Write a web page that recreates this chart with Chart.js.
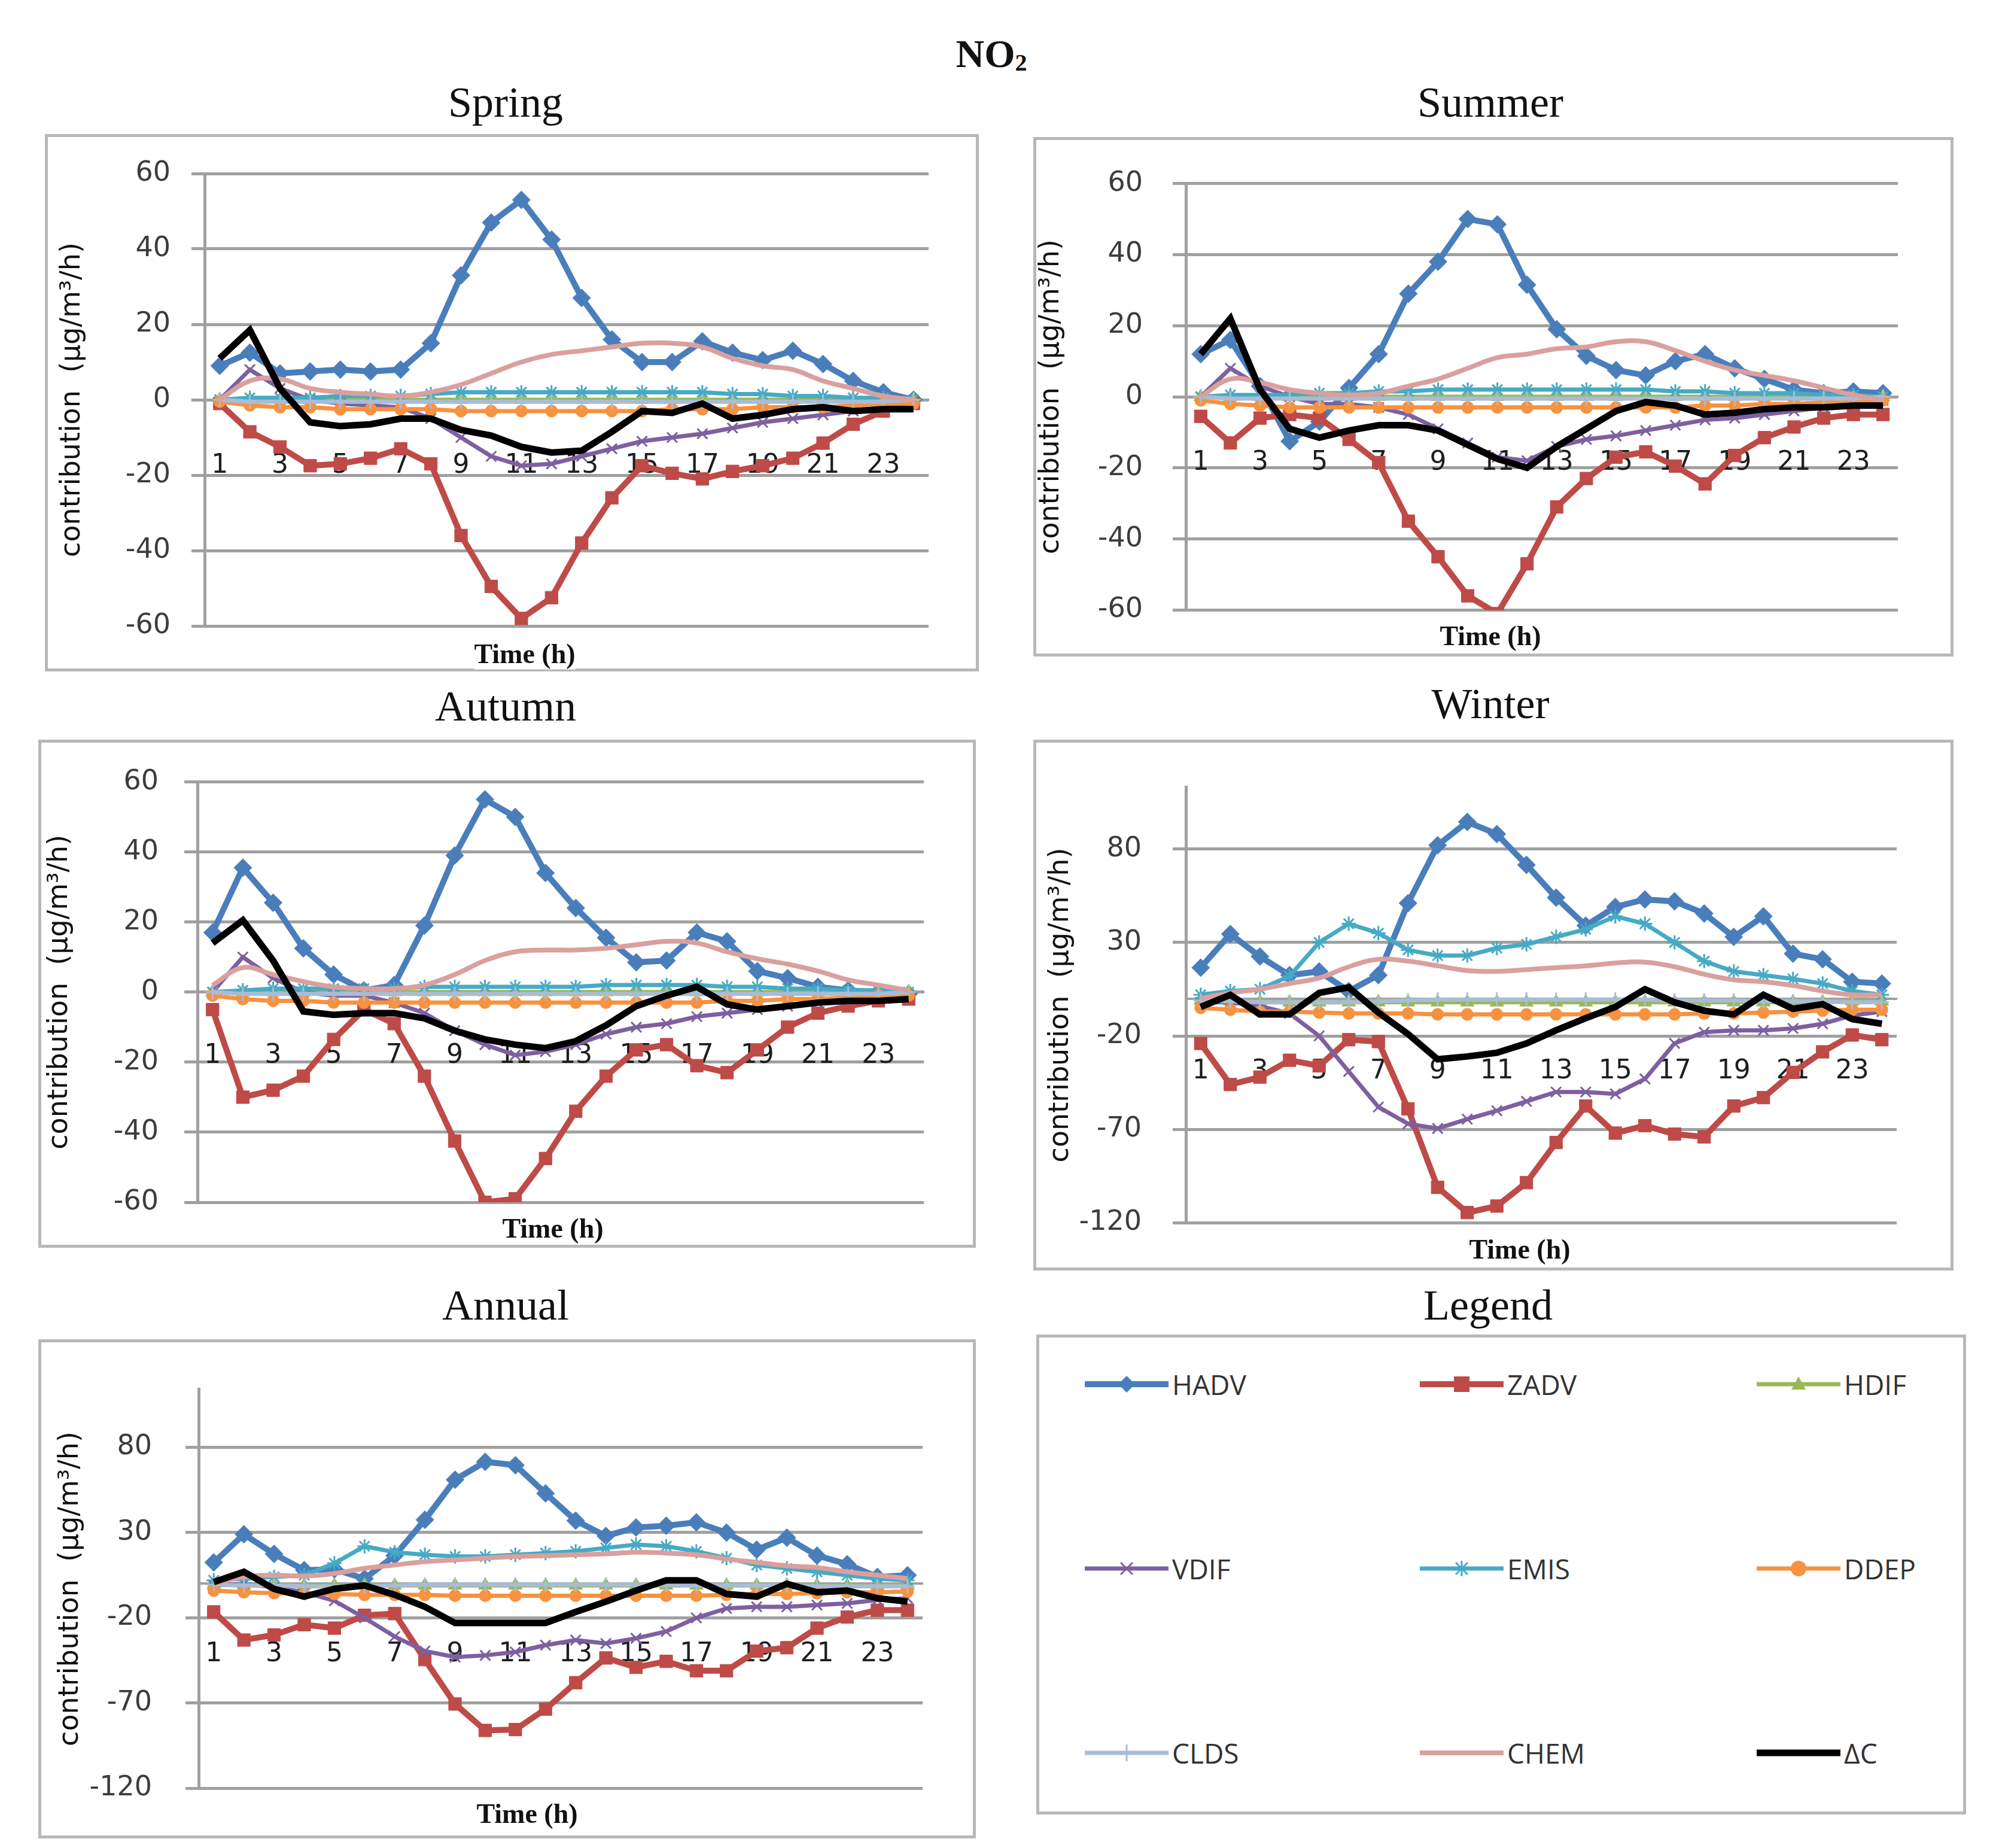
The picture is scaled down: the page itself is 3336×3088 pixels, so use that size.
<!DOCTYPE html>
<html>
<head>
<meta charset="utf-8">
<script src="https://cdn.jsdelivr.net/npm/chart.js@4.4.1/dist/chart.umd.min.js"></script>
<style>
  body { margin: 0; background: #fff; width: 3336px; height: 3088px; position: relative; overflow: hidden; }
  .frame { position: absolute; border: 5px solid #b8b8b8; box-sizing: border-box; background: #fff; }
  .wrap { position: absolute; }
  .ttl { position: absolute; transform: translate(-50%, -50%); white-space: nowrap;
         font-family: "Liberation Serif", "DejaVu Serif", serif; font-size: 72px; color: #111; }
  .main { font-weight: bold; font-size: 66px; }
  .main sub { font-size: 40px; vertical-align: -6px; }
  .time { position: absolute; transform: translate(-50%, -50%); white-space: nowrap; background: #fff;
          font-family: "Liberation Serif", "DejaVu Serif", serif; font-weight: bold; font-size: 46px; color: #111; }
  .leg { position: absolute; display: flex; align-items: center; transform: translateY(-50%);
         font-family: "Open Sans", "Liberation Sans", sans-serif; font-size: 46px; color: #333; }
  .leg svg { margin-right: 6px; }
</style>
</head>
<body>

<div class="ttl main" style="left:1657px; top:90px;">NO<sub>2</sub></div>

<div class="ttl" style="left:845px; top:171px;">Spring</div>
<div class="ttl" style="left:2491px; top:171px;">Summer</div>
<div class="ttl" style="left:845px; top:1180px;">Autumn</div>
<div class="ttl" style="left:2491px; top:1176px;">Winter</div>
<div class="ttl" style="left:845px; top:2181px;">Annual</div>
<div class="ttl" style="left:2487px; top:2181px;">Legend</div>

<div class="frame" style="left:75px; top:224px; width:1561px; height:898px;"></div>
<div class="frame" style="left:1727px; top:229px; width:1538px; height:868px;"></div>
<div class="frame" style="left:64px; top:1236px; width:1567px; height:849px;"></div>
<div class="frame" style="left:1727px; top:1236px; width:1538px; height:887px;"></div>
<div class="frame" style="left:64px; top:2238px; width:1567px; height:834px;"></div>
<div class="frame" style="left:1732px; top:2230px; width:1554px; height:802px;"></div>

<div class="wrap" style="left:75px; top:224px;"><canvas id="spring" width="1561" height="898"></canvas></div>
<div class="wrap" style="left:1727px; top:229px;"><canvas id="summer" width="1538" height="868"></canvas></div>
<div class="wrap" style="left:64px; top:1236px;"><canvas id="autumn" width="1567" height="849"></canvas></div>
<div class="wrap" style="left:1727px; top:1236px;"><canvas id="winter" width="1538" height="887"></canvas></div>
<div class="wrap" style="left:64px; top:2238px;"><canvas id="annual" width="1567" height="834"></canvas></div>

<div class="time" style="left:877px; top:1092px;">Time (h)</div>
<div class="time" style="left:2491px; top:1062px;">Time (h)</div>
<div class="time" style="left:924px; top:2052px;">Time (h)</div>
<div class="time" style="left:2540px; top:2087px;">Time (h)</div>
<div class="time" style="left:881px; top:3030px;">Time (h)</div>

<div id="legend"></div>

<script>
// ---------- Data ----------
const hours = [1, 2, 3, 4, 5, 6, 7, 8, 9, 10, 11, 12, 13, 14, 15, 16, 17, 18, 19, 20, 21, 22, 23, 24];
const seriesNames = ["HADV", "ZADV", "HDIF", "VDIF", "EMIS", "DDEP", "CLDS", "CHEM", "ΔC"];

const smallTicks = [-60, -40, -20, 0, 20, 40, 60];
const largeTicks = [-120, -70, -20, 30, 80];

// Spring
const springHADV = [9, 12.5, 7, 7.5, 8, 7.5, 8, 15, 33, 47, 53, 42.5, 27, 16, 10, 10, 15.5, 12.5, 10.5, 13, 9.5, 5, 2, 0];
const springZADV = [-1, -8.5, -12.5, -17.5, -17, -15.5, -13, -17, -36, -49.5, -58, -52.5, -38, -26, -17.5, -19.5, -21, -19, -17.5, -15.5, -11.5, -6.5, -3, -1];
const springHDIF = [0, 0, 0, 0, 0, 0, 0, 0, 0, 0, 0, 0, 0, 0, 0, 0, 0, 0, 0, 0, 0, 0, 0, 0];
const springVDIF = [0, 8, 3, 0, -1, -1.5, -2, -5, -10, -15, -17.5, -17, -15, -13, -11, -10, -9, -7.5, -6, -5, -4, -3, -2, -1];
const springEMIS = [0, 0.5, 0.5, 0.5, 1, 1, 1, 1.5, 2, 2, 2, 2, 2, 2, 2, 2, 2, 1.5, 1.5, 1, 1, 0.5, 0.5, 0];
const springDDEP = [-0.5, -1.5, -2, -2, -2.5, -2.5, -2.5, -2.5, -3, -3, -3, -3, -3, -3, -3, -2.5, -2.5, -2.5, -2, -2, -2, -1.5, -1, -1];
const springCLDS = [0, -0.5, -0.5, -0.5, -0.5, -0.5, -0.5, -0.5, -0.5, -0.5, -0.5, -0.5, -0.5, -0.5, -0.5, -0.5, -0.5, -0.5, -0.5, -0.5, -0.5, -0.5, -0.5, 0];
const springCHEM = [0, 5, 5.5, 3, 2, 1.5, 1, 2, 4, 7, 10, 12, 13, 14, 15, 15, 14, 11, 9, 8, 5, 3, 1, 0];
const springDC = [11, 18.5, 3, -6, -7, -6.5, -5, -5, -8, -9.5, -12.5, -14, -13.5, -8.5, -3, -3.5, -1, -5, -4, -2.5, -2, -3, -2.5, -2.5];

// Summer
const summerHADV = [12, 16, 3, -12.5, -7, 2.5, 12, 29, 38, 50, 48.5, 31.5, 19, 11.5, 7.5, 6, 10, 12, 8, 5, 2, 1, 1.5, 1];
const summerZADV = [-5.5, -13, -6, -5, -6, -12, -18.5, -35, -45, -56, -61, -47, -31, -23, -17, -15.5, -19.5, -24.5, -16.5, -11.5, -8.5, -6, -5, -5];
const summerHDIF = [0, 0, 0, 0, 0, 0, 0, 0, 0, 0, 0, 0, 0, 0, 0, 0, 0, 0, 0, 0, 0, 0, 0, 0];
const summerVDIF = [0, 8, 3, 0, -2, -2, -3, -5, -9, -13, -17, -18, -14, -12, -11, -9.5, -8, -6.5, -6, -5, -4, -3, -2, -1];
const summerEMIS = [0, 0.5, 0.5, 0.5, 1, 1, 1.5, 1.5, 2, 2, 2, 2, 2, 2, 2, 2, 1.5, 1.5, 1, 1, 1, 0.5, 0.5, 0];
const summerDDEP = [-1, -2, -2.5, -3, -3, -3, -3, -3, -3, -3, -3, -3, -3, -3, -3, -3, -3, -2.5, -2.5, -2, -2, -1.5, -1, -1];
const summerCLDS = [0, -0.5, -0.5, -0.5, -0.5, -0.5, -0.5, -0.5, -0.5, -0.5, -0.5, -0.5, -0.5, -0.5, -0.5, -0.5, -0.5, -0.5, -0.5, -0.5, -0.5, -0.5, -0.5, 0];
const summerCHEM = [0, 5, 4, 2, 1, 0.5, 1, 3, 5, 8, 11, 12, 13.5, 14, 15.5, 15.5, 13, 10, 7.5, 6, 4.5, 2.5, 0.5, -1];
const summerDC = [12, 22, 2, -9, -11.5, -9.5, -8, -8, -9.5, -13.5, -17.5, -20, -14, -9, -4, -1.5, -2.5, -5, -4.5, -3.5, -3, -3, -2.5, -2.5];

// Autumn
const autumnHADV = [17, 35.5, 25.5, 12.5, 5, 0.5, 2, 19, 39, 55, 50, 34, 24, 15.5, 8.5, 9, 17, 14.5, 6, 4, 1.5, 0.5, 0, -0.5];
const autumnZADV = [-5, -30, -28, -24, -13.5, -5, -9, -24, -42.5, -60, -59, -47.5, -34, -24, -16.5, -15, -21, -23, -16.5, -10, -6, -4, -2.5, -2];
const autumnHDIF = [0, 0, 0, 0, 0, 0, 0, 0, 0, 0, 0, 0, 0, 0, 0, 0, 0, 0, 0, 0, 0, 0, 0, 0];
const autumnVDIF = [0, 10, 4, 0, -1, -1, -3, -6, -11, -15, -18, -17, -15, -12, -10, -9, -7, -6, -5, -4, -3, -2, -1, -1];
const autumnEMIS = [0, 0.5, 1, 1, 1, 1, 1, 1.5, 1.5, 1.5, 1.5, 1.5, 1.5, 2, 2, 2, 2, 1.5, 1.5, 1, 1, 0.5, 0.5, 0];
const autumnDDEP = [-1, -2, -2.5, -2.5, -3, -3, -3, -3, -3, -3, -3, -3, -3, -3, -3, -3, -3, -2.5, -2.5, -2, -2, -1.5, -1, -1];
const autumnCLDS = [0, -0.5, -0.5, -0.5, -0.5, -0.5, -0.5, -0.5, -0.5, -0.5, -0.5, -0.5, -0.5, -0.5, -0.5, -0.5, -0.5, -0.5, -0.5, -0.5, -0.5, -0.5, -0.5, 0];
const autumnCHEM = [2, 7, 5, 3, 1.5, 1, 1, 2, 5, 9, 11.5, 12, 12, 12.5, 13.5, 14.5, 14, 11.5, 9.5, 8, 6, 3.5, 2, 0.5];
const autumnDC = [14, 20.5, 9, -5.5, -6.5, -6, -6, -7.5, -11, -13.5, -15, -16, -14, -9.5, -4, -1, 1.5, -3.5, -5, -4, -3, -2.5, -2.5, -2];

// Winter
const winterHADV = [16.5, 34.5, 22.5, 12.5, 14.5, 4, 12.5, 51, 82, 94.5, 88, 71.5, 54, 39, 49, 53, 52, 45.5, 33, 44, 24, 21, 9, 8];
const winterZADV = [-24, -46, -42, -33, -36, -22, -23, -59, -101, -114.5, -111, -98.5, -77, -57.5, -72, -68, -72.5, -74, -57.5, -53, -39.5, -28.5, -19.5, -22];
const winterHDIF = [-1, -1.5, -2, -2, -2, -2, -2, -2, -2, -2, -2, -2, -2, -2, -2, -2, -2, -2, -2, -2, -2, -2, -1.5, -1.5];
const winterVDIF = [-2, -2, -4, -8, -20, -39, -58, -67, -69.5, -64.5, -60, -55, -50, -50, -51, -43, -24, -18, -17, -17, -16, -13.5, -9, -7];
const winterEMIS = [2, 4, 5, 12, 30, 40, 35, 26, 23, 23, 27, 29, 33, 37, 44, 40, 30, 20, 14.5, 12.5, 10.5, 8, 4, 2];
const winterDDEP = [-5, -6, -7, -7, -7.5, -8, -8, -8, -8.5, -8.5, -8.5, -8.5, -8.5, -8.5, -8.5, -8.5, -8.5, -8, -8, -7.5, -7, -6.5, -6, -6];
const winterCLDS = [-1, -1.5, -2, -2, -2, -2, -1.5, -1, -0.5, -0.5, -0.5, -0.5, -0.5, -0.5, -0.5, -0.5, -1, -1, -1, -1.5, -1.5, -1.5, -2, -2];
const winterCHEM = [0, 3, 5, 8, 11, 17, 21, 20, 17.5, 15, 14.5, 15.5, 16.5, 17.5, 19, 19.5, 17, 13, 10, 9, 7, 4, 2, 2];
const winterDC = [-4.5, 2, -8.5, -8.5, 3, 6, -7.5, -19, -32.5, -31, -29, -24, -17, -10.5, -4.5, 5, -2, -6.5, -8.5, 2, -5.5, -3, -11, -13.5];

// Annual
const annualHADV = [12.5, 29, 17.5, 8, 8.5, 3, 16.5, 37.5, 61, 71.5, 69.5, 53, 37, 28, 33, 34, 36, 30, 20, 27, 16.5, 11.5, 4, 5];
const annualZADV = [-16.5, -33, -30, -24, -26, -18.5, -17.5, -44.5, -70.5, -86, -85.5, -73.5, -58, -43.5, -49, -45.5, -51, -51, -39.5, -37.5, -26, -19.5, -15.5, -15.5];
const annualHDIF = [-0.5, -1, -1, -1, -1, -1, -1, -1, -1, -1, -1, -1, -1, -1, -1, -1, -1, -1, -1, -1, -1, -1, -1, -1];
const annualVDIF = [-1, 0, -2, -5, -10, -20, -31, -39.5, -43, -42, -40, -36, -33, -35, -32, -28, -20, -14.5, -13.5, -13.5, -12.5, -11.5, -9.5, -8.5];
const annualEMIS = [2, 3, 4, 5, 12, 22, 18.5, 17, 16, 16, 17, 18, 19, 21, 23, 22, 19, 15, 11, 9, 7, 5, 3, 2];
const annualDDEP = [-4, -5, -5.5, -6, -6, -6.5, -6.5, -6.5, -7, -7, -7, -7, -7, -7, -7, -7, -7, -6.5, -6, -6, -5.5, -5, -5, -4.5];
const annualCLDS = [-0.5, -1, -1, -1.5, -1.5, -1.5, -1, -0.5, -0.5, -0.5, -0.5, -0.5, -0.5, -0.5, -0.5, -0.5, -1, -1, -1, -1, -1.5, -1.5, -1.5, -1.5];
const annualCHEM = [0, 4, 5, 4.5, 6, 9, 11, 13, 14, 15, 16, 16.5, 17, 17.5, 18.5, 18, 17, 14.5, 12.5, 10.5, 9.5, 7, 5, 3];
const annualDC = [1, 7, -3, -7.5, -3, -1, -6.5, -13.5, -23, -23, -23, -23, -16.5, -10.5, -4, 2, 2, -6, -7.5, 0, -5, -4, -8.5, -10.5];

// ---------- Styles ----------
const colors = ["#4a7ebb", "#be4b48", "#98b954", "#7d60a0", "#46aac5", "#f69240", "#a9bcd6", "#d9a09e", "#000000"];
const markers = ["rectRot", "rect", "triangle", "crossRot", "star", "circle", "cross", false, false];
const markerSize = [15, 15, 11, 12, 12, 9, 12, 0, 0];
const lineWidths = [10, 10, 7, 7, 7, 7, 7, 8, 11];

const GRID = "#a0a0a0";

function makeChart(id, values, yTicks, yMin, yMax, g) {
    const datasets = seriesNames.map((name, i) => ({
        label: name,
        data: values[i],
        borderColor: colors[i],
        backgroundColor: colors[i],
        borderWidth: lineWidths[i],
        pointStyle: markers[i],
        pointRadius: markerSize[i],
        pointBorderWidth: markers[i] === "rect" || markers[i] === "rectRot" ? 1 : 3,
        pointBackgroundColor: colors[i],
        pointBorderColor: colors[i],
        tension: name === "CHEM" ? 0.4 : 0,
        order: seriesNames.length - i
    }));

    new Chart(document.getElementById(id), {
        type: "line",
        data: { labels: hours, datasets },
        options: {
            responsive: false,
            animation: false,
            events: [],
            layout: { padding: { left: 0, top: g.top, right: g.right, bottom: g.bottom } },
            plugins: { legend: { display: false }, tooltip: { enabled: false } },
            scales: {
                x: {
                    type: "category",
                    offset: true,
                    position: { y: 0 },
                    grid: { display: false },
                    border: { display: true, color: GRID, width: 4 },
                    ticks: {
                        autoSkip: false,
                        maxRotation: 0,
                        padding: g.xPad,
                        color: "#1e1e1e",
                        font: { family: "DejaVu Sans", size: 44 },
                        callback: (v, i) => (i % 2 === 0 ? String(hours[i]) : "")
                    },
                    afterFit: s => { s.height = 0; }
                },
                y: {
                    min: yMin,
                    max: yMax,
                    afterBuildTicks: s => { s.ticks = yTicks.map(v => ({ value: v })); },
                    afterFit: s => { s.width = g.yW; },
                    grid: { color: GRID, lineWidth: 5, tickLength: 22, drawTicks: true },
                    border: { display: true, color: GRID, width: 5 },
                    ticks: {
                        padding: g.tickPad,
                        color: "#3c3c3c",
                        font: { family: "DejaVu Sans", size: 46 }
                    },
                    title: {
                        display: true,
                        text: "contribution  (μg/m³/h)",
                        color: "#111",
                        font: { family: "DejaVu Sans", size: 46 },
                        padding: { top: g.titlePad, bottom: 0 }
                    }
                }
            }
        }
    });
}

makeChart("spring",
    [springHADV, springZADV, springHDIF, springVDIF, springEMIS, springDDEP, springCLDS, springCHEM, springDC],
    smallTicks, -60, 60,
    { yW: 267, top: 66, right: 84, bottom: 76, tickPad: 35, titlePad: 18, xPad: 76 });

makeChart("summer",
    [summerHADV, summerZADV, summerHDIF, summerVDIF, summerEMIS, summerDDEP, summerCLDS, summerCHEM, summerDC],
    smallTicks, -60, 60,
    { yW: 255, top: 66, right: 93, bottom: 69, tickPad: 50, titlePad: 2, xPad: 76 });

makeChart("autumn",
    [autumnHADV, autumnZADV, autumnHDIF, autumnVDIF, autumnEMIS, autumnDDEP, autumnCLDS, autumnCHEM, autumnDC],
    smallTicks, -60, 60,
    { yW: 266, top: 67, right: 87, bottom: 76, tickPad: 43, titlePad: 8, xPad: 72 });

makeChart("winter",
    [winterHADV, winterZADV, winterHDIF, winterVDIF, winterEMIS, winterDDEP, winterCLDS, winterCHEM, winterDC],
    largeTicks, -120, 113,
    { yW: 255, top: 70, right: 95, bottom: 77, tickPad: 52, titlePad: 18, xPad: 88 });

makeChart("annual",
    [annualHADV, annualZADV, annualHDIF, annualVDIF, annualEMIS, annualDDEP, annualCLDS, annualCHEM, annualDC],
    largeTicks, -120, 114,
    { yW: 268, top: 66, right: 89, bottom: 72, tickPad: 56, titlePad: 26, xPad: 84 });

// ---------- Legend panel ----------
function markerSvg(i) {
    const c = colors[i];
    const cx = 70, cy = 22;
    switch (markers[i]) {
        case "rectRot": return `<polygon points="${cx},${cy - 14} ${cx + 14},${cy} ${cx},${cy + 14} ${cx - 14},${cy}" fill="${c}"/>`;
        case "rect": return `<rect x="${cx - 13}" y="${cy - 13}" width="26" height="26" fill="${c}"/>`;
        case "triangle": return `<polygon points="${cx},${cy - 13} ${cx + 12},${cy + 9} ${cx - 12},${cy + 9}" fill="${c}"/>`;
        case "crossRot": return `<path d="M${cx - 10} ${cy - 10}L${cx + 10} ${cy + 10}M${cx + 10} ${cy - 10}L${cx - 10} ${cy + 10}" stroke="${c}" stroke-width="3"/>`;
        case "star": return `<path d="M${cx - 10} ${cy - 10}L${cx + 10} ${cy + 10}M${cx + 10} ${cy - 10}L${cx - 10} ${cy + 10}M${cx} ${cy - 13}L${cx} ${cy + 13}" stroke="${c}" stroke-width="3"/>`;
        case "circle": return `<circle cx="${cx}" cy="${cy}" r="13" fill="${c}"/>`;
        case "cross": return `<path d="M${cx} ${cy - 14}L${cx} ${cy + 14}" stroke="${c}" stroke-width="3"/>`;
        default: return "";
    }
}

const legendCols = [1813, 2373, 2936];
const legendRows = [2313, 2621, 2929];
const legend = document.getElementById("legend");
seriesNames.forEach((name, i) => {
    const d = document.createElement("div");
    d.className = "leg";
    d.style.left = legendCols[i % 3] + "px";
    d.style.top = legendRows[Math.floor(i / 3)] + "px";
    d.innerHTML = `<svg width="140" height="44"><line x1="0" y1="22" x2="140" y2="22" stroke="${colors[i]}" stroke-width="${lineWidths[i]}"/>${markerSvg(i)}</svg><span>${name}</span>`;
    legend.appendChild(d);
});
</script>
</body>
</html>
